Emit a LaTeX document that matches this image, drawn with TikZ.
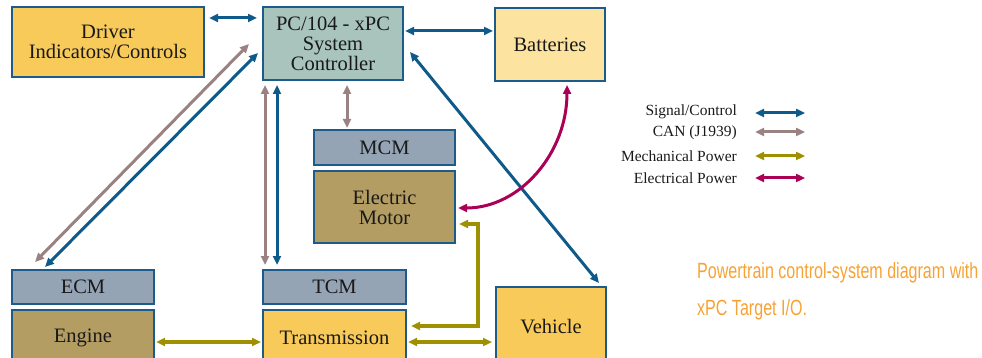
\documentclass[tikz,border=0pt]{standalone}
\usepackage{fontspec}
\setmainfont{Liberation Serif}
\newfontfamily\capfont[FakeStretch=0.73]{Liberation Sans}
\usetikzlibrary{arrows.meta}
\definecolor{bord}{HTML}{1D5C8A}
\definecolor{sigc}{HTML}{0E5A8A}
\definecolor{canc}{HTML}{9B8282}
\definecolor{mechc}{HTML}{9E9000}
\definecolor{elecc}{HTML}{AA0055}
\definecolor{yel}{HTML}{F8CA5A}
\definecolor{ltyel}{HTML}{FDE3A0}
\definecolor{pcf}{HTML}{A8C4BD}
\definecolor{modf}{HTML}{95A4B5}
\definecolor{khaki}{HTML}{B49D62}
\definecolor{capc}{HTML}{F7A234}
\tikzset{
  box/.style={draw=bord, line width=2pt, anchor=north west, align=center, inner sep=0pt,
    font=\fontsize{20.5}{20}\selectfont, text=black!90},
  tipA/.style={{Triangle[length=9pt,width=8pt]}-{Triangle[length=9pt,width=8pt]}},
  sig/.style={draw=sigc, line width=3pt, tipA},
  can/.style={draw=canc, line width=3pt, tipA},
  mech/.style={draw=mechc, line width=3.5pt, tipA, line join=miter},
  elec/.style={draw=elecc, line width=3pt, tipA},
  legt/.style={anchor=east, inner sep=0pt, font=\fontsize{15.5}{16}\selectfont, text=black!90},
}
\begin{document}
\begin{tikzpicture}[x=1pt,y=-1pt]
\useasboundingbox (0,0) rectangle (982,358);
\clip (0,0) rectangle (982,358);
% boxes
\node[box, fill=yel, minimum width=192pt, minimum height=70pt] (drv) at (11,6) {Driver\\Indicators/Controls};
\node[box, fill=pcf, minimum width=140pt, minimum height=73pt] (pc) at (262,6) {PC/104 - xPC\\System\\Controller};
\node[box, fill=ltyel, minimum width=110pt, minimum height=73pt] (bat) at (494,7) {Batteries};
\node[box, fill=modf, minimum width=141pt, minimum height=35pt] (mcm) at (313,129) {MCM};
\node[box, fill=khaki, minimum width=141pt, minimum height=72pt] (mot) at (313,170) {Electric\\Motor};
\node[box, fill=modf, minimum width=142pt, minimum height=34pt] (ecm) at (11,269) {ECM};
\node[box, fill=khaki, minimum width=142pt, minimum height=56pt] (eng) at (11,309) {Engine};
\node[box, fill=modf, minimum width=143pt, minimum height=34pt] (tcm) at (262,269) {TCM};
\node[box, fill=yel, minimum width=143pt, minimum height=56pt] (trn) at (262,309) {Transmission};
\node[box, fill=yel, minimum width=110pt, minimum height=80pt] (veh) at (495,286) {Vehicle};
% connectors
\draw[sig] ([shift={(4pt,-12pt)}]drv.north east) -- ([shift={(-5pt,-12pt)}]pc.north west);
\draw[sig] ([shift={(1pt,-25pt)}]pc.north east) -- ([shift={(-1pt,-25pt)}]pc.north east -| bat.west);
\draw[can] ([shift={(-13pt,-38pt)}]pc.north west) -- ([shift={(24pt,7pt)}]ecm.north west);
\draw[sig] ([shift={(-4pt,-47pt)}]pc.north west) -- ([shift={(34pt,2pt)}]ecm.north west);
\draw[can] ([shift={(3pt,-4pt)}]pc.south west) -- ([shift={(3pt,4pt)}]tcm.north west);
\draw[sig] ([shift={(15pt,-4pt)}]pc.south west) -- ([shift={(15pt,4pt)}]tcm.north west);
\draw[can] ([shift={(85pt,-4pt)}]pc.south west) -- ([shift={(34pt,1pt)}]mcm.north west);
\draw[sig] ([shift={(6pt,-46pt)}]pc.north east) -- ([shift={(-8pt,3pt)}]veh.north east);
\coordinate (e1) at ([shift={(73pt,-3pt)}]bat.south west);
\coordinate (e2) at ([shift={(2pt,36pt)}]mot.south east);
\draw[elec] (e1) .. controls +(0pt,-68pt) and +(62pt,0pt) .. (e2);
\coordinate (m1) at ([shift={(3pt,20pt)}]mot.south east);
\coordinate (mc) at (478,326);
\coordinate (t1) at ([shift={(4pt,-17pt)}]trn.north east);
\draw[mech] (m1) -| (mc) -- (t1);
\draw[mech] ([shift={(1pt,-33pt)}]eng.north east) -- ([shift={(-1pt,-33pt)}]trn.north west);
\draw[mech] ([shift={(1pt,-33pt)}]trn.north east) -- ([shift={(-3pt,-33pt)}]trn.north east -| veh.west);
% legend
\node[legt] (l1) at (737,112) {Signal/Control};
\node[legt] (l2) at (737,133) {CAN (J1939)};
\node[legt] (l3) at (737,156) {Mechanical Power};
\node[legt] (l4) at (737,178) {Electrical Power};
\coordinate (a1) at (755,113); \coordinate (b1) at (805,113);
\coordinate (a2) at (755,132); \coordinate (b2) at (805,132);
\coordinate (a3) at (755,156); \coordinate (b3) at (805,156);
\coordinate (a4) at (755,178); \coordinate (b4) at (805,178);
\draw[sig] (a1) -- (b1);
\draw[can] (a2) -- (b2);
\draw[mech, line width=3pt] (a3) -- (b3);
\draw[elec] (a4) -- (b4);
% caption
\node[anchor=base west, inner sep=0pt, text=capc, font=\capfont\fontsize{22}{24}\selectfont] (cap1) at (697,278) {Powertrain control-system diagram with};
\node[anchor=base west, inner sep=0pt, text=capc, font=\capfont\fontsize{22}{24}\selectfont] (cap2) at (697,315) {xPC Target I/O.};
\end{tikzpicture}
\end{document}
